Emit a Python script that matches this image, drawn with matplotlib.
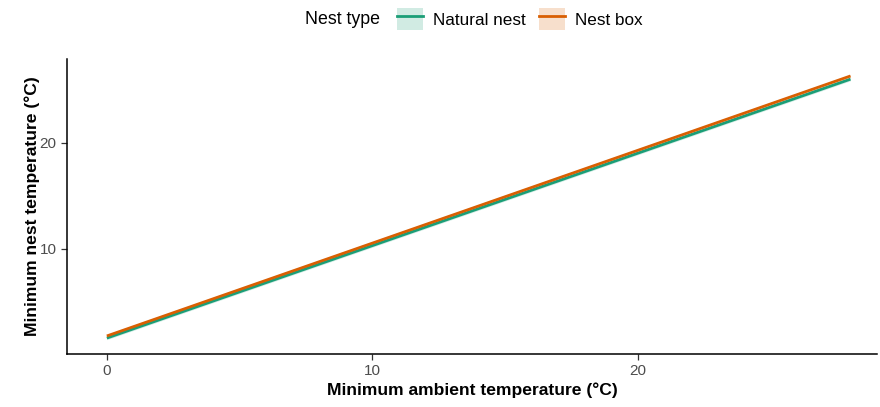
import matplotlib
matplotlib.use("Agg")
import matplotlib.pyplot as plt
from matplotlib.patches import Patch
from matplotlib.lines import Line2D
import numpy as np

plt.rcParams['font.family'] = ['Liberation Sans', 'DejaVu Sans']

# fitted lines (end points)
ambient = [0, 28]
natural_nest = [1.6, 26.0]
nest_box = [1.8, 26.3]
ci_half = [0.15, 0.15]

series_names = ["Natural nest", "Nest box"]
colors = ["#1b9e77", "#d95f02"]

fig = plt.figure(figsize=(8.8, 4.07), dpi=100)
ax = fig.add_axes([67 / 880, 1 - 354 / 407, 810 / 880, 295 / 407])

for yvals, col in zip([natural_nest, nest_box], colors):
    y = np.array(yvals)
    ax.fill_between(ambient, y - ci_half, y + ci_half, color=col, alpha=0.2, lw=0)
    ax.plot(ambient, y, color=col, lw=2.0, solid_capstyle='butt')

ax.set_xlim(-1.5, 29.0)
ax.set_ylim(0.1, 27.9)
ax.set_xticks([0, 10, 20])
ax.set_yticks([10, 20])
ax.spines['top'].set_visible(False)
ax.spines['right'].set_visible(False)
for s in ['left', 'bottom']:
    ax.spines[s].set_linewidth(1.1)
ax.tick_params(length=4, width=0.9, color='#333333', labelcolor='#4d4d4d', labelsize=11)

ax.set_xlabel("Minimum ambient temperature (°C)", fontsize=12.6, fontweight='bold', labelpad=3)
ax.set_ylabel("Minimum nest temperature (°C)", fontsize=12.6, fontweight='bold', labelpad=0)

# legend on top
handles = [(Patch(facecolor=c, alpha=0.2, edgecolor='none'), Line2D([], [], color=c, lw=2)) for c in colors]
fig.text(305 / 880, 1 - 19 / 407, "Nest type", fontsize=12.8, va='center', ha='left')
fig.legend(handles, series_names, loc='center left', bbox_to_anchor=(397 / 880, 1 - 19 / 407),
           ncol=2, frameon=False, fontsize=12.3, handlelength=1.5, handleheight=1.6,
           columnspacing=0.8, handletextpad=0.6, borderaxespad=0, borderpad=0)

fig.savefig("out.png", dpi=100)
